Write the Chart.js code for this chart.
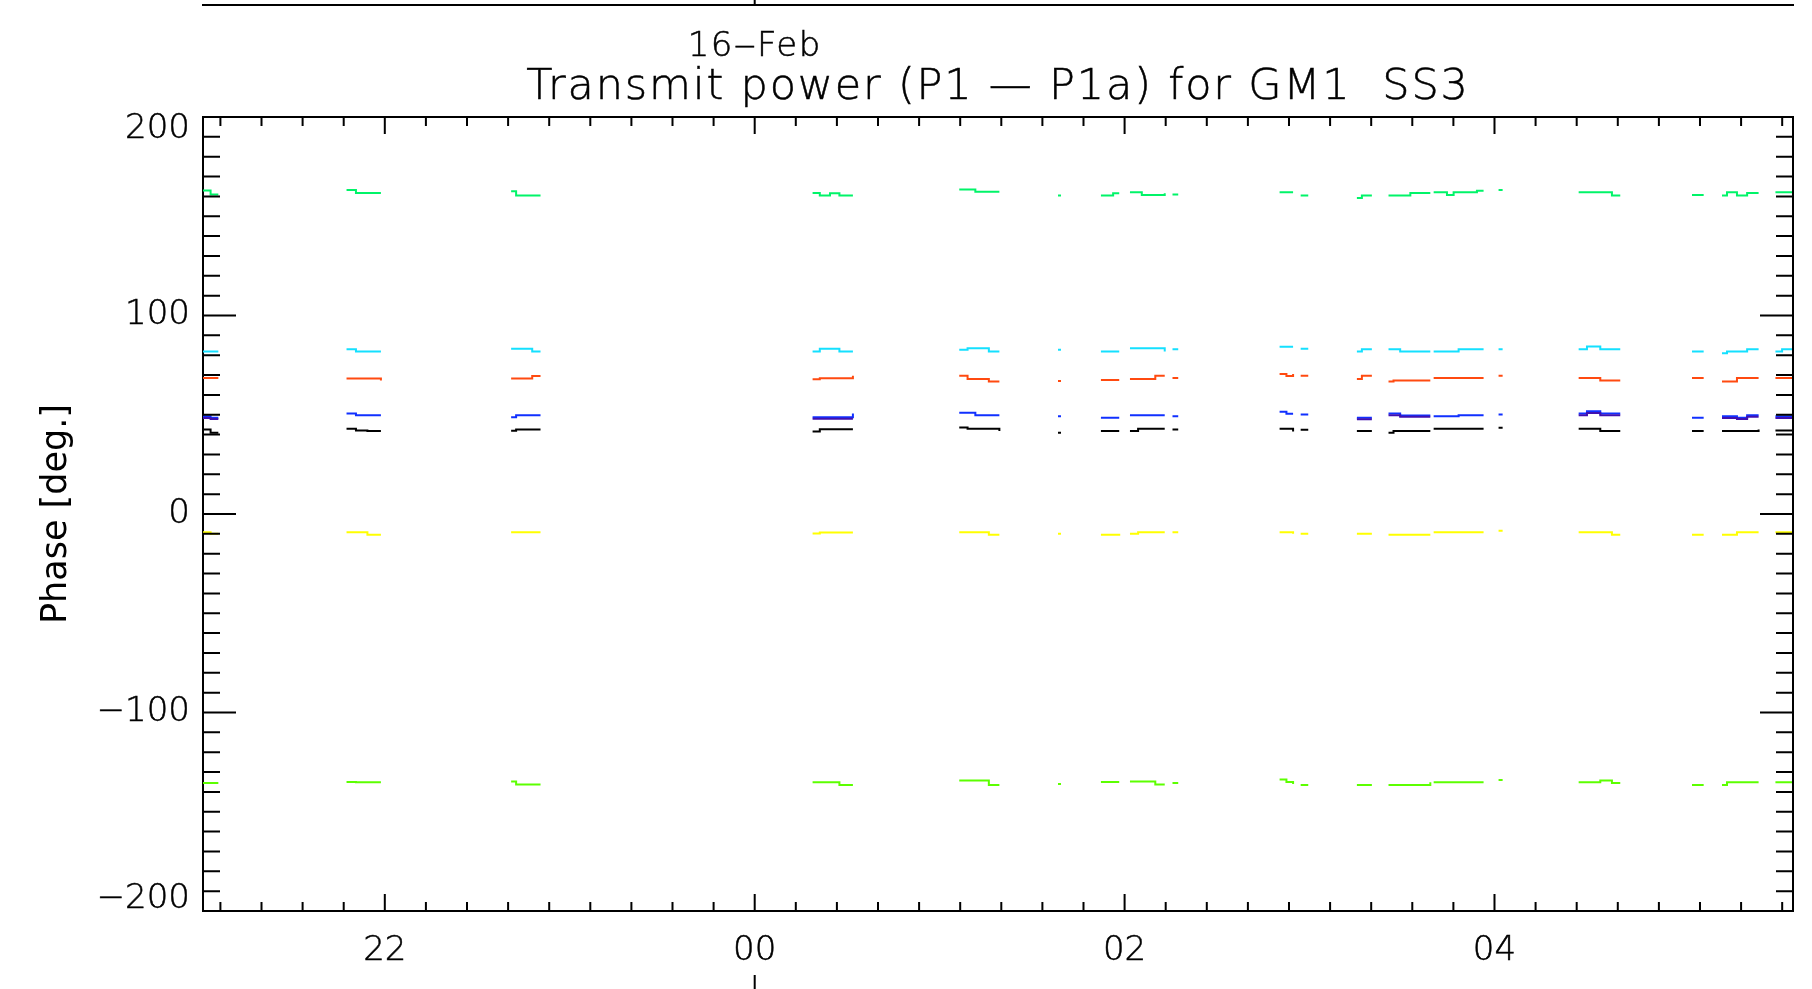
<!DOCTYPE html>
<html>
<head>
<meta charset="utf-8">
<title>Transmit power phase, GM1 SS3</title>
<script src="https://cdn.jsdelivr.net/npm/chart.js@4.4.1/dist/chart.umd.min.js"></script>
<style>
  html, body { margin: 0; padding: 0; background: #fff; }
  #wrap { width: 1812px; height: 989px; }
</style>
</head>
<body>
<div id="wrap"><canvas id="phase" width="1812" height="989"></canvas></div>
<script>
// sample times in hours from 00:00 on 16-Feb, one row per pass
const hours = [
  [-2.983, -2.942, -2.900],
  [-2.207, -2.156, -2.094, -2.021],
  [-1.317, -1.290, -1.203, -1.158],
  [0.313, 0.352, 0.407, 0.458, 0.531],
  [1.106, 1.151, 1.193, 1.266, 1.323],
  [1.640, 1.656],
  [1.872, 1.938, 1.971],
  [2.029, 2.073, 2.093, 2.166, 2.217],
  [2.259, 2.290],
  [2.838, 2.875, 2.911],
  [2.952, 2.993],
  [3.256, 3.283, 3.337],
  [3.427, 3.454, 3.490, 3.545, 3.653],
  [3.671, 3.743, 3.779, 3.806, 3.905, 3.941],
  [4.022, 4.044],
  [4.455, 4.500, 4.572, 4.635, 4.680],
  [5.068, 5.131],
  [5.230, 5.257, 5.311, 5.366, 5.428],
  [5.519, 5.555, 5.614]
];

// phase per channel [deg], same layout as hours
const phaseGreen = [
  [163.0, 161.0, 161.0],
  [163.2, 161.7, 161.7, 161.7],
  [162.6, 160.4, 160.4, 160.4],
  [161.7, 160.4, 161.6, 160.4, 160.4],
  [163.5, 163.5, 162.3, 162.3, 162.3],
  [160.5, 160.5],
  [160.4, 161.6, 161.6],
  [162.1, 162.1, 160.7, 160.7, 161.6],
  [161.0, 161.0],
  [162.1, 162.1, 162.1],
  [160.4, 160.4],
  [159.2, 160.4, 160.4],
  [160.4, 160.4, 160.4, 161.7, 161.7],
  [162.1, 160.7, 162.1, 162.1, 162.9, 162.9],
  [163.2, 163.2],
  [162.1, 162.1, 162.1, 160.4, 160.4],
  [160.7, 160.7],
  [160.4, 162.1, 160.4, 161.7, 161.7],
  [162.1, 162.1, 162.9]
];
const phaseCyan = [
  [81.9, 81.9, 81.9],
  [83.0, 81.9, 81.9, 81.9],
  [83.3, 83.3, 81.9, 81.9],
  [81.9, 83.3, 83.3, 81.9, 81.9],
  [82.7, 83.5, 83.5, 81.9, 81.9],
  [82.7, 82.7],
  [81.9, 81.9, 81.9],
  [83.5, 83.5, 83.5, 83.5, 81.9],
  [83.0, 83.0],
  [84.2, 84.2, 84.2],
  [83.3, 83.3],
  [81.9, 83.0, 83.0],
  [83.0, 83.0, 81.9, 81.9, 81.9],
  [81.9, 81.9, 81.9, 83.0, 83.0, 83.0],
  [83.0, 83.0],
  [83.0, 84.4, 83.0, 83.0, 83.0],
  [81.9, 81.9],
  [81.0, 81.9, 81.9, 83.0, 83.0],
  [81.9, 83.0, 83.0]
];
const phaseRed = [
  [68.5, 68.5, 68.5],
  [68.3, 68.3, 68.3, 67.2],
  [68.3, 68.3, 69.5, 69.5],
  [67.9, 68.4, 68.4, 68.4, 69.6],
  [69.7, 68.0, 68.0, 66.8, 66.8],
  [67.0, 67.0],
  [67.5, 67.5, 67.5],
  [68.0, 68.0, 68.0, 69.7, 69.7],
  [68.5, 68.5],
  [70.5, 69.5, 70.5],
  [69.7, 69.7],
  [68.0, 69.7, 69.7],
  [66.8, 67.2, 67.2, 67.2, 67.2],
  [68.5, 68.5, 68.5, 68.5, 68.5, 68.5],
  [69.7, 69.7],
  [68.5, 68.5, 67.2, 67.2, 67.2],
  [68.5, 68.5],
  [66.8, 66.8, 68.5, 68.5, 68.5],
  [68.5, 68.5, 68.5]
];
// violet channel, only showing where it peeks out below the blue one
const phaseViolet = [
  [48.4, 47.8, 47.8],
  [null, null, null, null],
  [null, null, null, null],
  [48.0, 48.0, 48.0, 48.0, 48.0],
  [null, null, null, null, null],
  [null, null],
  [null, null, null],
  [null, null, null, null, null],
  [null, null],
  [null, null, null],
  [null, null],
  [47.7, 47.7, 47.7],
  [49.8, 49.8, 49.0, 49.0, 49.0],
  [null, null, null, null, null, null],
  [null, null],
  [49.8, 50.9, 49.8, 49.8, 49.8],
  [null, null],
  [48.4, 48.4, 47.8, 49.0, 49.0],
  [48.4, 48.4, 48.4]
];
const phaseBlue = [
  [49.3, 48.5, 48.5],
  [50.6, 49.8, 49.8, 49.8],
  [48.8, 49.8, 49.8, 49.8],
  [48.8, 48.8, 48.8, 48.8, 50.6],
  [51.0, 51.0, 49.8, 49.8, 49.8],
  [49.3, 49.3],
  [48.5, 48.5, 48.5],
  [49.8, 49.8, 49.8, 49.8, 49.8],
  [49.3, 49.3],
  [51.5, 50.5, 50.5],
  [50.1, 50.1],
  [48.5, 48.5, 48.5],
  [50.6, 50.6, 49.6, 49.6, 49.6],
  [49.3, 49.3, 49.3, 49.8, 49.8, 49.8],
  [50.1, 50.1],
  [50.6, 51.8, 50.6, 50.6, 50.6],
  [48.5, 48.5],
  [49.3, 49.3, 48.5, 49.8, 49.8],
  [49.3, 49.3, 49.3]
];
const phaseBlack = [
  [42.6, 40.9, 40.9],
  [42.9, 42.1, 41.8, 41.8],
  [42.0, 42.6, 42.6, 42.6],
  [41.6, 42.7, 42.7, 42.7, 42.7],
  [43.6, 42.9, 42.9, 42.9, 41.8],
  [40.9, 40.9],
  [41.8, 41.8, 41.8],
  [41.8, 42.9, 42.9, 42.9, 42.9],
  [42.6, 42.6],
  [43.0, 43.0, 41.5],
  [42.4, 42.4],
  [41.8, 41.8, 41.8],
  [40.9, 41.8, 41.8, 41.8, 41.8],
  [43.0, 43.0, 43.0, 43.0, 43.0, 43.0],
  [43.4, 43.4],
  [42.9, 42.9, 41.8, 41.8, 41.8],
  [41.8, 41.8],
  [41.8, 41.8, 41.8, 41.8, 42.6],
  [42.1, 42.1, 42.1]
];
const phaseYellow = [
  [-9.2, -10.0, -10.0],
  [-9.2, -9.2, -10.4, -10.4],
  [-9.2, -9.2, -9.2, -9.2],
  [-9.8, -9.3, -9.3, -9.3, -9.3],
  [-9.2, -9.2, -9.2, -10.4, -10.4],
  [-10.0, -10.0],
  [-10.4, -10.4, -10.0],
  [-10.0, -9.2, -9.2, -9.2, -9.2],
  [-9.2, -9.2],
  [-9.2, -9.2, -10.0],
  [-10.0, -10.0],
  [-10.0, -10.0, -10.0],
  [-10.4, -10.4, -10.4, -10.4, -10.4],
  [-9.2, -9.2, -9.2, -9.2, -9.2, -9.2],
  [-8.4, -8.4],
  [-9.2, -9.2, -9.2, -10.4, -10.4],
  [-10.4, -10.4],
  [-10.4, -10.4, -9.2, -9.2, -9.2],
  [-9.2, -9.2, -9.2]
];
const phaseLime = [
  [-135.5, -135.5, -135.5],
  [-135.0, -135.2, -135.2, -135.2],
  [-134.8, -136.3, -136.3, -136.3],
  [-135.2, -135.2, -135.2, -136.5, -136.5],
  [-134.3, -134.3, -134.3, -136.5, -136.5],
  [-136.0, -136.0],
  [-135.0, -135.0, -135.0],
  [-134.8, -134.8, -134.8, -136.3, -136.3],
  [-135.5, -135.5],
  [-133.8, -135.0, -136.0],
  [-136.5, -136.5],
  [-136.5, -136.5, -136.5],
  [-136.5, -136.5, -136.5, -136.5, -135.2],
  [-135.2, -135.2, -135.2, -135.2, -135.2, -135.2],
  [-134.0, -134.0],
  [-135.2, -135.2, -134.3, -135.5, -135.5],
  [-136.5, -136.5],
  [-136.5, -135.2, -135.2, -135.2, -135.2],
  [-135.2, -135.2, -135.2]
];

const hourTicks = [-2, 0, 2, 4];
const hourLabels = ['22', '00', '02', '04'];
const phaseTicks = [-200, -100, 0, 100, 200];
const dayLabel = '16‒Feb';
const plotTitle = 'Transmit power (P1 — P1a) for GM1  SS3';

const FONT = "'DejaVu Sans', 'Liberation Sans', sans-serif";

// flatten the passes into one point list, a null point between passes breaks the line
function toPoints(values) {
  const pts = [];
  values.forEach((pass, p) => {
    if (p > 0) pts.push({x: null, y: null});
    pass.forEach((v, i) => pts.push({x: hours[p][i], y: v}));
  });
  return pts;
}

function series(values, color) {
  return {
    data: toPoints(values),
    borderColor: color,
    borderWidth: 2,
    pointRadius: 0,
    stepped: true,
    spanGaps: false,
    fill: false
  };
}

// inward ticks on all four sides, the closed frame and the header texts
const frame = {
  id: 'frame',
  afterDraw(chart) {
    const {ctx, chartArea: a, scales: {x, y}} = chart;
    ctx.save();
    ctx.strokeStyle = '#000';
    ctx.lineWidth = 2;
    ctx.beginPath();
    ctx.moveTo(a.left, a.top);
    ctx.lineTo(a.right, a.top);
    ctx.lineTo(a.right, a.bottom);

    const xTick = (v, len) => {
      const px = x.getPixelForValue(v);
      ctx.moveTo(px, a.bottom); ctx.lineTo(px, a.bottom - len);
      ctx.moveTo(px, a.top); ctx.lineTo(px, a.top + len);
    };
    const yTick = (v, len) => {
      const py = y.getPixelForValue(v);
      ctx.moveTo(a.left, py); ctx.lineTo(a.left + len, py);
      ctx.moveTo(a.right, py); ctx.lineTo(a.right - len, py);
    };
    // minor steps: 9 per two hours, 10 deg
    for (let k = -20; k <= 40; k++) {
      const v = hourTicks[0] + k * 2 / 9;
      if (v < x.min || v > x.max) continue;
      xTick(v, k % 9 === 0 ? 17 : 9);
    }
    for (let v = -190; v < 200; v += 10) {
      if (v % 100 !== 0) yTick(v, 17);
    }
    phaseTicks.forEach(v => yTick(v, 33));

    // edges of the neighbouring panels
    const midnight = x.getPixelForValue(0);
    ctx.moveTo(a.left - 1, 5);
    ctx.lineTo(a.right + 1, 5);
    ctx.moveTo(midnight, 5); ctx.lineTo(midnight, 0);
    ctx.moveTo(midnight, 975); ctx.lineTo(midnight, 989);
    ctx.stroke();

    ctx.fillStyle = '#000';
    ctx.lineWidth = 0.5;
    ctx.textAlign = 'center';
    ctx.textBaseline = 'alphabetic';
    ctx.font = '300 34px ' + FONT;
    ctx.letterSpacing = '1.5px';
    ctx.fillText(dayLabel, midnight, 56);
    ctx.strokeText(dayLabel, midnight, 56);
    ctx.font = '300 43px ' + FONT;
    ctx.letterSpacing = '1.8px';
    ctx.fillText(plotTitle, (a.left + a.right) / 2, 99);
    ctx.strokeText(plotTitle, (a.left + a.right) / 2, 99);
    ctx.restore();
  }
};

new Chart(document.getElementById('phase'), {
  type: 'line',
  data: {
    datasets: [
      series(phaseLime, '#5cff00'),
      series(phaseYellow, '#ffff00'),
      series(phaseBlack, '#000000'),
      series(phaseViolet, '#4010b0'),
      series(phaseBlue, '#1030ff'),
      series(phaseRed, '#ff4a10'),
      series(phaseCyan, '#14e0ff'),
      series(phaseGreen, '#00f468')
    ]
  },
  options: {
    responsive: false,
    devicePixelRatio: 1,
    animation: false,
    events: [],
    layout: { padding: { top: 117, right: 19, left: 0, bottom: 0 } },
    scales: {
      x: {
        type: 'linear',
        min: -2.983,
        max: 5.614,
        grid: { display: false, drawTicks: false },
        border: { display: true, color: '#000', width: 2 },
        afterBuildTicks: scale => { scale.ticks = hourTicks.map(v => ({value: v})); },
        afterFit: scale => { scale.height = 78; },
        ticks: {
          color: '#000',
          padding: 20,
          maxRotation: 0,
          autoSkip: false,
          textStrokeColor: '#000',
          textStrokeWidth: 0.5,
          font: { family: FONT, size: 34, weight: 300 },
          callback: v => hourLabels[hourTicks.indexOf(v)]
        }
      },
      y: {
        min: -200,
        max: 200,
        grid: { display: false, drawTicks: false },
        border: { display: true, color: '#000', width: 2 },
        afterBuildTicks: scale => { scale.ticks = phaseTicks.map(v => ({value: v})); },
        afterFit: scale => { scale.width = 203; },
        title: {
          display: true,
          text: 'Phase [deg.]',
          color: '#000',
          font: { family: FONT, size: 35 },
          padding: { top: 36 }
        },
        ticks: {
          color: '#000',
          padding: 13,
          textStrokeColor: '#000',
          textStrokeWidth: 0.5,
          font: { family: FONT, size: 34, weight: 300, lineHeight: 0.72 },
          // the end labels are pulled inside the frame
          callback: v => {
            const s = String(v).replace('-', '−');
            if (v === 200) return ['', s];
            if (v === -200) return [s, ''];
            return s;
          }
        }
      }
    },
    plugins: {
      legend: { display: false },
      tooltip: { enabled: false }
    }
  },
  plugins: [frame]
});
</script>
</body>
</html>
